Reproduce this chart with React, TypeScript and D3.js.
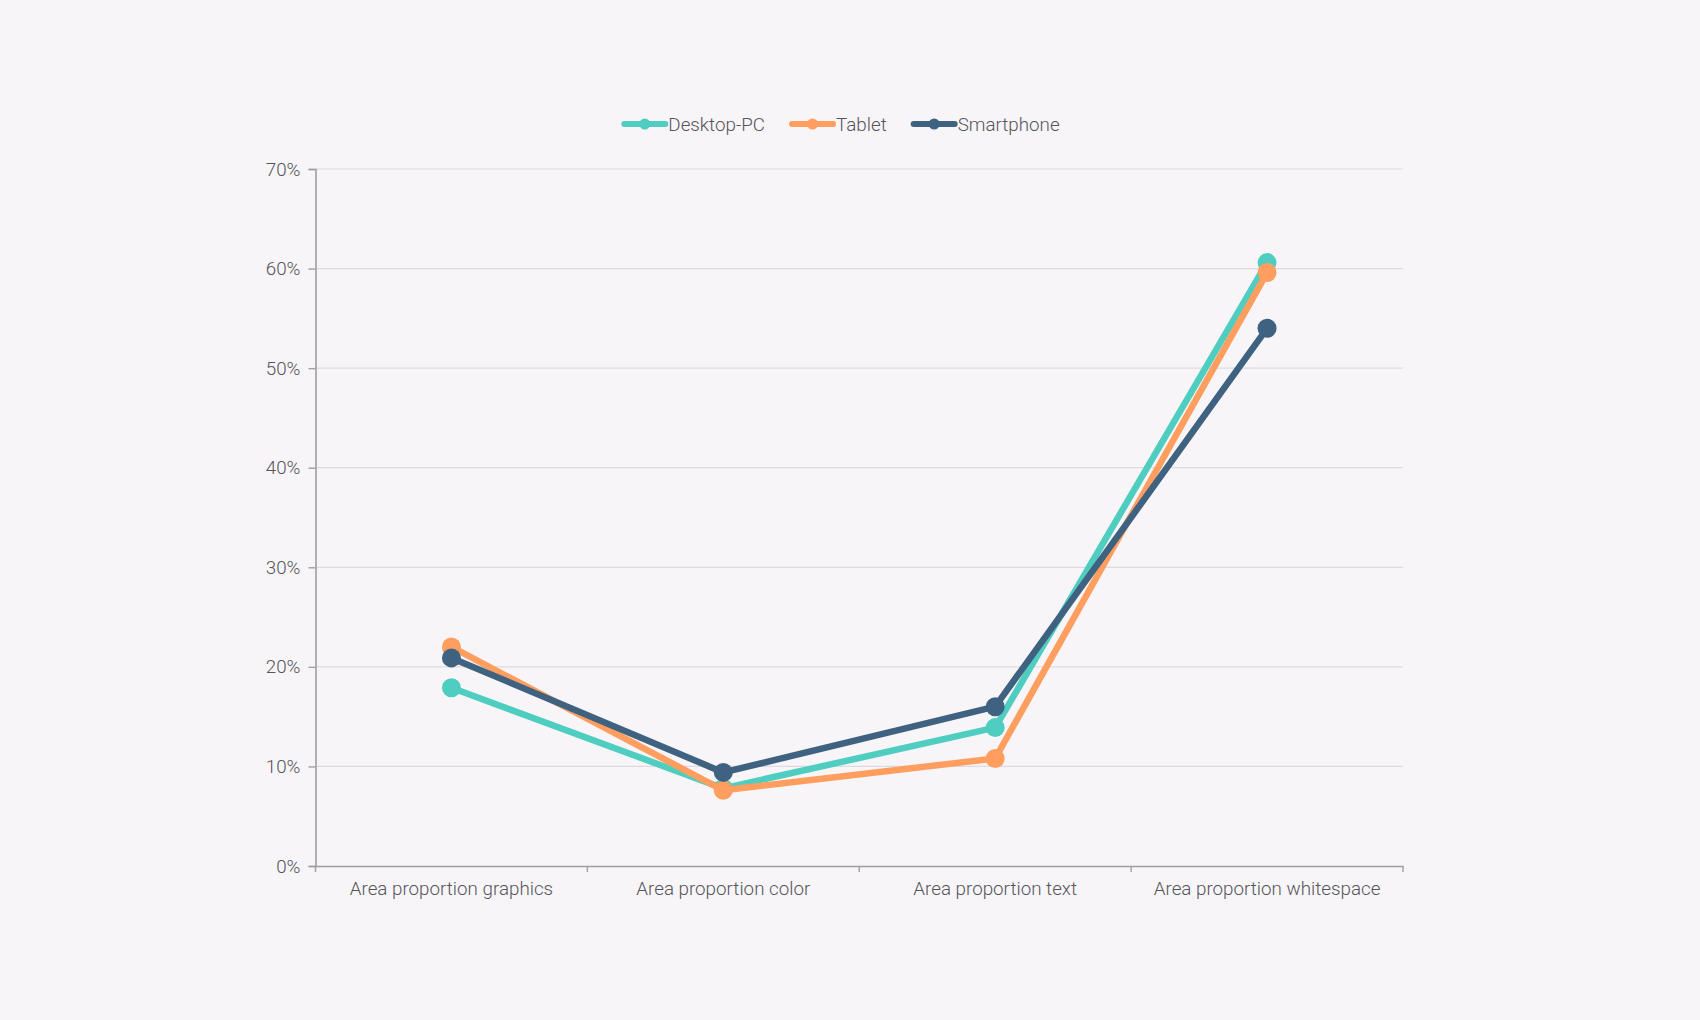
import React, { useEffect, useRef } from "react";
import * as d3 from "d3";

const categories = [
  "Area proportion graphics",
  "Area proportion color",
  "Area proportion text",
  "Area proportion whitespace",
];

const seriesNames = ["Desktop-PC", "Tablet", "Smartphone"];
const desktopValues = [17.9, 7.8, 13.9, 60.6];
const tabletValues = [22.0, 7.6, 10.8, 59.6];
const smartphoneValues = [20.9, 9.4, 16.0, 54.0];
const seriesColors = ["#4ecdc0", "#ff9e5e", "#3f6280"];

const yTicks = [0, 10, 20, 30, 40, 50, 60, 70];

const W = 1700,
  H = 1020;
const margin = { top: 169, right: 297, bottom: 154, left: 315.5 };
const FONT = "Roboto, 'Noto Sans', sans-serif";
const FONT_SIZE = 18.8;

export default function App() {
  const ref = useRef<SVGSVGElement>(null);

  useEffect(() => {
    const svg = d3.select(ref.current);
    svg.selectAll("*").remove();

    const width = W - margin.left - margin.right;
    const height = H - margin.top - margin.bottom;

    const data = [desktopValues, tabletValues, smartphoneValues];

    const x = d3.scaleBand().domain(categories).range([0, width]);
    const y = d3.scaleLinear().domain([0, 70]).range([height, 0]);

    svg.append("rect").attr("width", W).attr("height", H).attr("fill", "#f7f5f8");

    const g = svg.append("g").attr("transform", `translate(${margin.left},${margin.top})`);

    // grid lines
    g.append("g")
      .selectAll("line")
      .data(yTicks.filter((t) => t > 0))
      .join("line")
      .attr("x1", 0)
      .attr("x2", width)
      .attr("y1", (d) => y(d))
      .attr("y2", (d) => y(d))
      .attr("stroke", "#dedbe0")
      .attr("stroke-width", 1.2);

    // y axis
    const yAxis = g
      .append("g")
      .call(
        d3
          .axisLeft(y)
          .tickValues(yTicks)
          .tickSize(7)
          .tickPadding(8)
          .tickFormat((d) => `${d}%`)
      );
    yAxis.select(".domain").attr("stroke", "#a09ea3").attr("stroke-width", 1.6);
    yAxis.selectAll(".tick line").attr("stroke", "#a09ea3").attr("stroke-width", 1.4);
    yAxis
      .selectAll("text")
      .attr("fill", "#555458")
      .attr("font-family", FONT)
      .attr("font-weight", 300)
      .attr("font-size", FONT_SIZE);

    // x axis
    const xAxis = g
      .append("g")
      .attr("transform", `translate(0,${height})`)
      .call(d3.axisBottom(x).tickSize(0).tickPadding(16));
    xAxis.select(".domain").attr("stroke", "#a09ea3").attr("stroke-width", 1.6);
    xAxis
      .selectAll("text")
      .attr("fill", "#555458")
      .attr("font-family", FONT)
      .attr("font-weight", 300)
      .attr("font-size", FONT_SIZE);

    // x ticks at band edges
    const edges = categories.map((c) => x(c) as number).concat([width]);
    g.append("g")
      .selectAll("line")
      .data(edges)
      .join("line")
      .attr("x1", (d) => d)
      .attr("x2", (d) => d)
      .attr("y1", height)
      .attr("y2", height + 6)
      .attr("stroke", "#a09ea3")
      .attr("stroke-width", 1.4);

    const cx = (i: number) => (x(categories[i]) as number) + x.bandwidth() / 2;

    const line = d3
      .line<number>()
      .x((_, i) => cx(i))
      .y((d) => y(d));

    data.forEach((vals, si) => {
      g.append("path")
        .datum(vals)
        .attr("d", line)
        .attr("fill", "none")
        .attr("stroke", seriesColors[si])
        .attr("stroke-width", 6.5)
        .attr("stroke-linejoin", "round");
      g.append("g")
        .selectAll("circle")
        .data(vals)
        .join("circle")
        .attr("cx", (_, i) => cx(i))
        .attr("cy", (d) => y(d))
        .attr("r", 9.5)
        .attr("fill", seriesColors[si]);
    });

    // legend
    const legend = svg.append("g").attr("transform", `translate(0,124)`);
    const items = seriesNames.map((name, i) => {
      const item = legend.append("g");
      item
        .append("line")
        .attr("x1", 0)
        .attr("x2", 41)
        .attr("stroke", seriesColors[i])
        .attr("stroke-width", 6)
        .attr("stroke-linecap", "round");
      item.append("circle").attr("cx", 20.5).attr("r", 5.5).attr("fill", seriesColors[i]);
      const t = item
        .append("text")
        .attr("x", 44)
        .attr("dy", "0.35em")
        .attr("fill", "#555458")
        .attr("font-family", FONT)
        .attr("font-weight", 300)
        .attr("font-size", FONT_SIZE)
        .text(name);
      const w = 44 + (t.node() as SVGTextElement).getComputedTextLength();
      return { item, w };
    });
    const gap = 27;
    const total = d3.sum(items, (d) => d.w) + gap * (items.length - 1);
    let cur = 842 - total / 2;
    items.forEach(({ item, w }) => {
      item.attr("transform", `translate(${cur},0)`);
      cur += w + gap;
    });
  }, []);

  return (
    <svg
      ref={ref}
      width={W}
      height={H}
      style={{ position: "absolute", left: 0, top: 0, display: "block" }}
    />
  );
}
